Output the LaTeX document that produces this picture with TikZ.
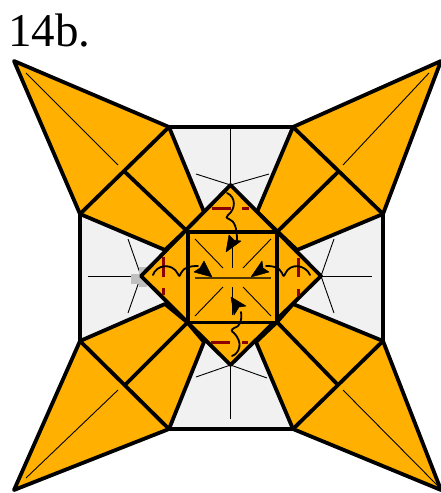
\documentclass[tikz,border=0pt]{standalone}
\usepackage{fontspec}
\setmainfont{Liberation Serif}
\definecolor{flap}{HTML}{FFB000}
\definecolor{paper}{HTML}{F1F1F1}
\definecolor{mark}{HTML}{8B0000}
\tikzset{
  edgeline/.style={draw=black,line width=3.8pt,line join=round},
  flapfill/.style={fill=flap,edgeline},
  thinline/.style={draw=black,line width=0.9pt},
  redmark/.style={draw=mark,line width=3pt},
  curl/.style={draw=black,line width=1.8pt,line cap=round},
  headfill/.style={fill=black,draw=black,line width=0.5pt,line join=round}
}
\begin{document}
\begin{tikzpicture}[x=1pt,y=-1pt]
\useasboundingbox (0,0) rectangle (441,493);
\node[anchor=base west,inner sep=0pt,font=\fontsize{47}{47}\selectfont] (title) at (8,46) {14b.};
% paper octagon
\path[fill=paper,edgeline] (169,127) -- (293,127) -- (383,214) -- (383,341) -- (293,429) -- (169,429) -- (80,341) -- (80,214) -- cycle;
% radiating thin lines
\foreach \a/\b in {230.5/128,196/174,269/174}{\draw[thinline] (230.5,185) -- (\a,\b);}
\foreach \a/\b in {230.5/419,196/377,267/378}{\draw[thinline] (230.5,365) -- (\a,\b);}
\foreach \a/\b in {372/276,334/239,334/313}{\draw[thinline] (321,276) -- (\a,\b);}
\foreach \a/\b in {88/276,128/239,128/313}{\draw[thinline] (141,276) -- (\a,\b);}
% grey smudge
\fill[black!25] (131,274) rectangle (147,284);
\fill[black!25] (139,267) rectangle (147,287);
% flaps
\path[flapfill] (169,127) -- (14,61) -- (80,214) -- (165,250) -- (185,231) -- (204,212) -- cycle;
\path[flapfill] (293,127) -- (441,61) -- (383,214) -- (297,250) -- (277,231) -- (257,212) -- cycle;
\path[flapfill] (80,341) -- (14,490) -- (169,429) -- (204,342) -- (187,322) -- (165,304) -- cycle;
\path[flapfill] (383,341) -- (441,490) -- (293,429) -- (256,342) -- (277,322) -- (293,304) -- cycle;
% flap folds
\path[edgeline] (80,214) -- (169,127) (125,172) -- (188,232);
\path[edgeline] (383,214) -- (293,127) (338,172) -- (277,232);
\path[edgeline] (80,341) -- (169,429) (125,385) -- (188,322);
\path[edgeline] (383,341) -- (293,429) (338,385) -- (277,322);
\draw[thinline] (26,73) -- (118,165);
\draw[thinline] (429,73) -- (343,165);
\draw[thinline] (26,478) -- (118,390);
\draw[thinline] (438,486) -- (343,390);
% diamond and square
\path[flapfill] (230.5,185) -- (321,276) -- (230.5,365) -- (141,276) -- cycle;
\path[flapfill] (188,232) rectangle (277,322.5);
% inner thin lines
\draw[thinline] (195,239) -- (223,268);
\draw[thinline] (271,239) -- (243,268);
\draw[thinline] (195,316) -- (223,287);
\draw[thinline] (271,316) -- (243,287);
\draw[thinline] (232,241) -- (232,268);
\draw[thinline] (232,287) -- (232,315);
\draw[draw=black!70!flap,line width=1.6pt] (195,278) -- (271,278);
% valley marks
\draw[redmark] (212,208) -- (231,208) (242,208) -- (249,208);
\draw[redmark] (211,342) -- (230,342) (242,342) -- (248,342);
\draw[redmark] (163,257) -- (163,277) (163,288) -- (163,295);
\draw[redmark] (298,258) -- (298,277) (298,289) -- (298,296);
% curled arrows
\draw[curl] (227,193) .. controls (236,197) and (236,209) .. (228,215) .. controls (226,217) and (226,218) .. (229,219) .. controls (235,221) and (237,229) .. (237,240);
\path[headfill] (226,252) -- (229,235) -- (234,240) -- (241,241) -- cycle;
\draw[curl] (232,356) .. controls (240,353) and (243,342) .. (234,333) .. controls (231,331) and (231,330) .. (234,328) .. controls (241,326) and (242,320) .. (241,312);
\path[headfill] (231,297) -- (246,306) -- (239,307) -- (234,315) -- cycle;
\draw[curl] (153,275) .. controls (156,265) and (172,262) .. (178,274) .. controls (179,277) and (180,276) .. (181,273) .. controls (184,267) and (190,266) .. (198,266);
\path[headfill] (212,277) -- (194,272) -- (200,268) -- (204,261) -- cycle;
\draw[curl] (310,275) .. controls (306,265) and (290,262) .. (285,274) .. controls (284,277) and (283,276) .. (282,273) .. controls (279,267) and (274,266) .. (266,266);
\path[headfill] (251,277) -- (269,272) -- (263,268) -- (262,261) -- cycle;
\end{tikzpicture}
\end{document}
